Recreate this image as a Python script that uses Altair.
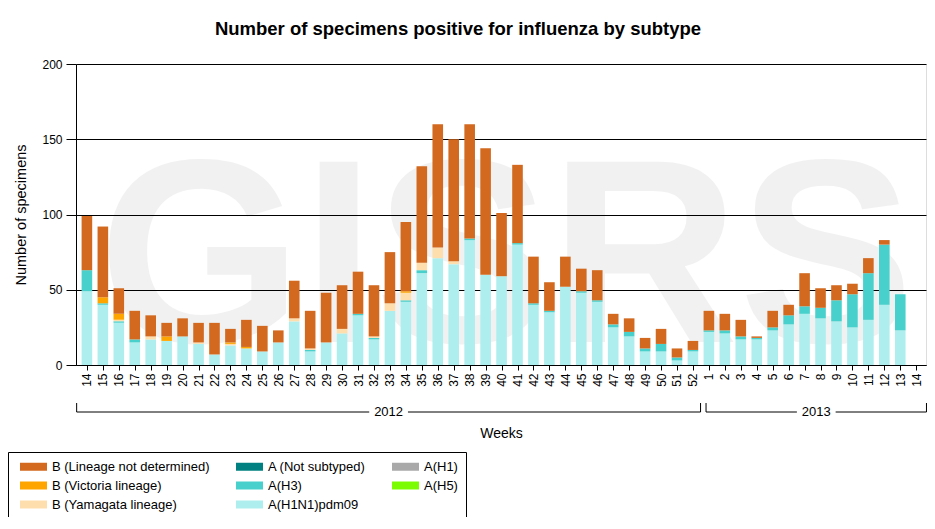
import json
import altair as alt
import pandas as pd

# ---------------- data ----------------
weeks_2012 = ["14", "15", "16", "17", "18", "19", "20", "21", "22", "23", "24", "25", "26",
              "27", "28", "29", "30", "31", "32", "33", "34", "35", "36", "37", "38", "39",
              "40", "41", "42", "43", "44", "45", "46", "47", "48", "49", "50", "51", "52"]
weeks_2013 = ["1", "2", "3", "4", "5", "6", "7", "8", "9", "10", "11", "12", "13", "14"]

h1n1pdm09 = [49, 40, 28, 15, 17, 16, 19, 14, 7, 13, 11, 9, 15,
             29, 9, 15, 21, 33, 17, 36, 42, 61, 71, 67, 83, 60,
             59, 80, 40, 35, 52, 48, 42, 25, 19, 9, 9, 3, 9,
             22, 21, 17, 17, 23, 27, 34, 31, 29, 25, 30, 40, 23, 0]
a_h3 = [14, 1, 1, 2, 0, 0, 0, 0, 0, 0, 0, 0, 0,
        0, 1, 0, 0, 1, 1, 0, 1, 2, 0, 0, 1, 0,
        0, 1, 1, 1, 0, 1, 1, 2, 3, 2, 5, 2, 1,
        1, 2, 2, 1, 2, 6, 5, 7, 14, 22, 31, 40, 24, 0]
a_not_subtyped = [0, 0, 0, 0, 0, 0, 0, 0, 0, 0, 0, 0, 0,
                  0, 0, 0, 0, 0, 0, 0, 0, 0, 0, 0, 0, 0,
                  0, 0, 0, 0, 0, 0, 0, 0, 0, 0, 0, 0, 0,
                  0, 0, 0, 0, 0, 0, 0, 0, 0, 0, 0, 0, 0, 0]
a_h1 = [0, 0, 0, 0, 0, 0, 0, 0, 0, 0, 0, 0, 0,
        0, 0, 0, 0, 0, 0, 0, 0, 0, 0, 0, 0, 0,
        0, 0, 0, 0, 0, 0, 0, 0, 0, 0, 0, 0, 0,
        0, 0, 0, 0, 0, 0, 0, 0, 0, 0, 0, 0, 0, 0]
a_h5 = [0, 0, 0, 0, 0, 0, 0, 0, 0, 0, 0, 0, 0,
        0, 0, 0, 0, 0, 0, 0, 0, 0, 0, 0, 0, 0,
        0, 0, 0, 0, 0, 0, 0, 0, 0, 0, 0, 0, 0,
        0, 0, 0, 0, 0, 0, 0, 0, 0, 0, 0, 0, 0, 0]
b_yamagata = [0, 0, 1, 0, 2, 0, 0, 1, 0, 1, 0, 0, 0,
              2, 1, 0, 3, 0, 1, 5, 5, 5, 7, 2, 0, 0,
              0, 0, 0, 0, 0, 0, 0, 0, 0, 0, 0, 0, 0,
              0, 0, 0, 0, 0, 0, 0, 0, 0, 0, 0, 0, 0, 0]
b_victoria = [0, 4, 4, 0, 0, 3, 0, 0, 0, 1, 1, 0, 0,
              0, 0, 0, 0, 0, 0, 0, 1, 0, 0, 0, 0, 0,
              0, 0, 0, 0, 0, 0, 0, 0, 0, 0, 0, 0, 0,
              0, 0, 0, 0, 0, 0, 0, 0, 0, 0, 0, 0, 0, 0]
b_not_determined = [36, 47, 17, 19, 14, 9, 12, 13, 21, 9, 18, 17, 8,
                    25, 25, 33, 29, 28, 34, 34, 46, 64, 82, 81, 76, 84,
                    42, 52, 31, 19, 20, 15, 20, 7, 9, 7, 10, 6, 6,
                    13, 11, 11, 1, 11, 7, 22, 13, 10, 7, 10, 3, 0, 0]

# series: (name, values, colour); listed bottom-of-stack first
series = [
    ("A(H1N1)pdm09", h1n1pdm09, "#AFEEEE"),
    ("A(H1)", a_h1, "#A9A9A9"),
    ("A(H3)", a_h3, "#48D1CC"),
    ("A (Not subtyped)", a_not_subtyped, "#008080"),
    ("A(H5)", a_h5, "#7CFC00"),
    ("B (Yamagata lineage)", b_yamagata, "#FFDEAD"),
    ("B (Victoria lineage)", b_victoria, "#FFA500"),
    ("B (Lineage not determined)", b_not_determined, "#D2691E"),
]
# legend order (filled column by column, 3 rows)
legend_order = ["B (Lineage not determined)", "B (Victoria lineage)", "B (Yamagata lineage)",
                "A (Not subtyped)", "A(H3)", "A(H1N1)pdm09",
                "A(H1)", "A(H5)"]
colour_of = {n: c for n, _, c in series}

week_labels = weeks_2012 + weeks_2013
year_of = ["2012"] * len(weeks_2012) + ["2013"] * len(weeks_2013)

rows = []
for i, wk in enumerate(week_labels):
    for k, (name, vals, _) in enumerate(series):
        rows.append({"idx": i, "week": wk, "year": year_of[i],
                     "subtype": name, "value": vals[i], "stack": k})
df = pd.DataFrame(rows)

half = 0.33      # half bar width in category units
label_gap = 1.2  # half width of the gap left for the year label, in category units
n2012 = len(weeks_2012)
n_all = len(week_labels)
years_df = pd.DataFrame({
    "year": ["2012", "2013"],
    "start": [0 - half, n2012 - half],
    "end": [n2012 - 1 + half, n_all - 1 + half],
})
years_df["mid"] = (years_df["start"] + years_df["end"]) / 2
segs_df = pd.DataFrame({
    "a": list(years_df["start"]) + list(years_df["mid"] + label_gap),
    "b": list(years_df["mid"] - label_gap) + list(years_df["end"]),
})

FONT = "Liberation Sans"
W, H = 850, 301
XDOM = [-0.37, n_all - 1 + 0.3]


def xs():
    return alt.Scale(domain=XDOM, nice=False, zero=False)


label_expr = json.dumps(week_labels) + "[datum.value]"

watermark = alt.Chart(pd.DataFrame({"t": ["GISRS"]})).mark_text(
    font=FONT, fontWeight="bold", fontSize=262, color="black", opacity=0.05,
    align="center", baseline="alphabetic", clip=True
).encode(text="t:N", x=alt.value(430), y=alt.value(278))

bars = alt.Chart(df).mark_bar(size=10.6).encode(
    x=alt.X("idx:Q", scale=xs(),
            axis=alt.Axis(values=list(range(n_all)), labelExpr=label_expr,
                          labelAngle=270, labelFontSize=12, labelFont=FONT,
                          labelColor="black", labelPadding=3, tickSize=5,
                          tickColor="black", domainColor="black", grid=False,
                          title="Weeks", titleFont=FONT, titleFontSize=14,
                          titleFontWeight="normal", titleColor="black",
                          titlePadding=40, labelOverlap=False)),
    y=alt.Y("value:Q", stack="zero",
            scale=alt.Scale(domain=[0, 200], nice=False),
            axis=alt.Axis(values=[0, 50, 100, 150, 200], labelFontSize=12,
                          labelFont=FONT, labelColor="black", tickSize=10,
                          tickColor="black", domainColor="black", grid=True,
                          gridColor="black", gridOpacity=1, labelPadding=4,
                          title="Number of specimens", titleFont=FONT,
                          titleFontSize=14.5, titleFontWeight="normal",
                          titleColor="black", titlePadding=13)),
    color=alt.Color("subtype:N",
                    scale=alt.Scale(domain=legend_order,
                                    range=[colour_of[n] for n in legend_order]),
                    legend=alt.Legend(title=None, orient="none", legendX=-68,
                                      legendY=388, columns=3,
                                      symbolType="M-3.375,-1H3.375V1H-3.375Z",
                                      symbolSize=64, symbolOffset=11,
                                      symbolStrokeWidth=0,
                                      labelFont=FONT, labelFontSize=13,
                                      labelColor="black", labelOffset=12,
                                      labelLimit=300, strokeColor="black",
                                      fillColor="white", padding=8,
                                      rowPadding=5, columnPadding=22)),
    order=alt.Order("stack:Q", sort="ascending"),
)

hline = alt.Chart(segs_df).mark_rule(color="black", strokeWidth=1).encode(
    x=alt.X("a:Q", scale=xs(), axis=None), x2="b:Q", y=alt.value(348))
base_y = alt.Chart(years_df)
lticks = base_y.mark_rule(color="black", strokeWidth=1).encode(
    x=alt.X("start:Q", scale=xs(), axis=None), y=alt.value(339), y2=alt.value(348))
rticks = base_y.mark_rule(color="black", strokeWidth=1).encode(
    x=alt.X("end:Q", scale=xs(), axis=None), y=alt.value(339), y2=alt.value(348))
ylabels = base_y.mark_text(font=FONT, fontSize=13, color="black",
                           baseline="middle").encode(
    x=alt.X("mid:Q", scale=xs(), axis=None), y=alt.value(348), text="year:N")

chart = alt.layer(watermark, bars, hline, lticks, rticks, ylabels).resolve_scale(
    x="independent"
).resolve_axis(
    x="independent"
).properties(
    width=W, height=H,
    title=alt.Title("Number of specimens positive for influenza by subtype",
                    font=FONT, fontSize=18.5, fontWeight="bold", color="black",
                    anchor="middle", frame="group", dx=-43, offset=20),
    autosize=alt.AutoSizeParams(type="none"),
    padding={"left": 68, "top": 56, "right": 1, "bottom": 152},
).configure_view(stroke="black", strokeWidth=1).configure(background="white")

chart.save("out.html", embed_options={"renderer": "svg", "actions": False})
